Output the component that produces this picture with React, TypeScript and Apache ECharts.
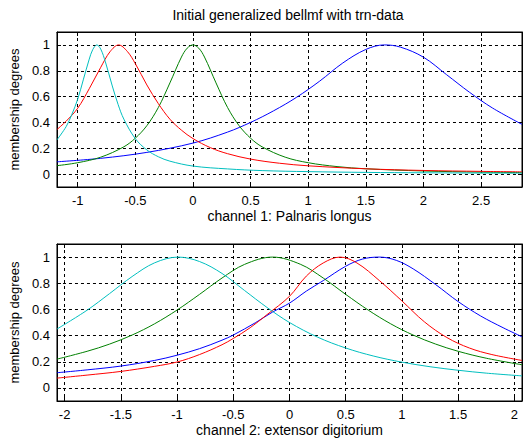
import React, { useEffect, useRef } from "react";
import * as echarts from "echarts";

// ---------- channel 1 (top) ----------
const topBlueX = [-1.18, -0.8, -0.4, 0, 0.3, 0.5, 0.7, 0.9, 1.1, 1.3, 1.5, 1.66, 1.8, 2.0, 2.2, 2.4, 2.6, 2.855];
const topBlueY = [0.095, 0.122, 0.168, 0.24, 0.325, 0.4, 0.49, 0.595, 0.72, 0.86, 0.965, 1.0, 0.983, 0.905, 0.77, 0.633, 0.511, 0.385];

const topGreenX = [-1.18, -1.0, -0.8, -0.6, -0.5, -0.4, -0.3, -0.2, -0.1, -0.05, 0, 0.05, 0.1, 0.2, 0.3, 0.4, 0.5, 0.6, 0.8, 1.0, 1.25, 1.5, 2.0, 2.5, 2.855];
const topGreenY = [0.065, 0.088, 0.131, 0.211, 0.278, 0.375, 0.516, 0.706, 0.906, 0.975, 1.0, 0.975, 0.906, 0.706, 0.516, 0.375, 0.278, 0.211, 0.131, 0.088, 0.058, 0.041, 0.024, 0.015, 0.012];

const topRedX = [-1.18, -1.1, -1.0, -0.9, -0.8, -0.72, -0.645, -0.57, -0.5, -0.4, -0.3, -0.2, -0.1, 0, 0.15, 0.3, 0.5, 0.75, 1.0, 1.5, 2.0, 2.5, 2.855];
const topRedY = [0.345, 0.41, 0.51, 0.661, 0.827, 0.947, 1.0, 0.95, 0.855, 0.69, 0.545, 0.425, 0.34, 0.275, 0.205, 0.158, 0.116, 0.084, 0.064, 0.041, 0.028, 0.021, 0.017];

const topCyanX = [-1.18, -1.1, -1.05, -1.0, -0.95, -0.9, -0.87, -0.834, -0.8, -0.76, -0.7, -0.65, -0.6, -0.5, -0.4, -0.3, -0.2, 0, 0.3, 0.6, 1.0, 1.5, 2.0, 2.5, 2.855];
const topCyanY = [0.265, 0.368, 0.464, 0.58, 0.735, 0.89, 0.963, 1.0, 0.967, 0.869, 0.682, 0.54, 0.426, 0.274, 0.187, 0.134, 0.1, 0.062, 0.04, 0.027, 0.019, 0.013, 0.01, 0.008, 0.007];

// ---------- channel 2 (bottom) ----------
const botBlueX = [-2.068, -1.8, -1.5, -1.2, -1.0, -0.8, -0.6, -0.5, -0.3, -0.15, 0, 0.15, 0.3, 0.5, 0.65, 0.8, 0.95, 1.1, 1.3, 1.5, 1.7, 1.9, 2.068];
const botBlueY = [0.116, 0.138, 0.167, 0.21, 0.25, 0.3, 0.365, 0.404, 0.5, 0.58, 0.648, 0.74, 0.82, 0.93, 0.985, 1.0, 0.975, 0.91, 0.79, 0.66, 0.55, 0.46, 0.391];

const botGreenX = [-2.068, -1.8, -1.6, -1.4, -1.2, -1.0, -0.8, -0.6, -0.4, -0.15, 0.1, 0.3, 0.5, 0.7, 0.9, 1.1, 1.3, 1.5, 1.75, 2.068];
const botGreenY = [0.22, 0.28, 0.335, 0.404, 0.49, 0.595, 0.715, 0.84, 0.944, 1.0, 0.944, 0.84, 0.715, 0.595, 0.49, 0.404, 0.335, 0.28, 0.227, 0.177];

const botRedX = [-2.068, -1.8, -1.5, -1.2, -1.0, -0.8, -0.6, -0.5, -0.35, -0.2, 0, 0.15, 0.3, 0.45, 0.6, 0.8, 1.0, 1.2, 1.4, 1.6, 1.8, 2.068];
const botRedY = [0.075, 0.098, 0.126, 0.165, 0.198, 0.255, 0.33, 0.378, 0.46, 0.56, 0.7, 0.855, 0.955, 1.0, 0.955, 0.82, 0.665, 0.505, 0.385, 0.305, 0.255, 0.21];

const botCyanX = [-2.068, -1.8, -1.6, -1.4, -1.2, -0.99, -0.8, -0.6, -0.4, -0.2, 0, 0.25, 0.5, 0.75, 1.0, 1.25, 1.5, 1.75, 2.068];
const botCyanY = [0.45, 0.594, 0.721, 0.851, 0.956, 1.0, 0.966, 0.875, 0.745, 0.615, 0.5, 0.388, 0.305, 0.243, 0.197, 0.162, 0.135, 0.113, 0.092];

// ---------- texts & ranges ----------
const titleText = "Initial generalized bellmf with trn-data";
const yName = "membership degrees";
const xName1 = "channel 1: Palnaris longus";
const xName2 = "channel 2: extensor digitorium";
const xRange1 = [-1.18, 2.855];
const xRange2 = [-2.068, 2.068];
const yRange = [-0.1, 1.1];

const FONT = '"Liberation Sans", Arial, Helvetica, sans-serif';
const BLUE = "#0000ff";
const GREEN = "#008000";
const RED = "#ff0000";
const CYAN = "#00bfbf";

function pairs(xs: number[], ys: number[]) {
  return xs.map((x, i) => [x, ys[i]]);
}

const gridLine = { show: true, lineStyle: { color: "#000", width: 1, type: [3, 3] as any } };
const tickStyle = { show: true, inside: true, length: 4, lineStyle: { color: "#000", width: 1 } };

function xAxes(gridIndex: number, range: number[], name: string) {
  return [
    {
      type: "value",
      gridIndex,
      position: "bottom",
      min: range[0],
      max: range[1],
      splitNumber: 8,
      axisLine: { show: true, onZero: false, lineStyle: { color: "#000", width: 1 } },
      axisTick: tickStyle,
      axisLabel: { show: true, color: "#000", fontSize: 13, fontFamily: FONT, margin: 7, showMinLabel: false, showMaxLabel: false },
      splitLine: gridLine,
      name,
      nameLocation: "middle",
      nameGap: 22,
      nameTextStyle: { color: "#000", fontSize: 14, fontFamily: FONT },
    },
    {
      type: "value",
      gridIndex,
      position: "top",
      min: range[0],
      max: range[1],
      splitNumber: 8,
      axisLine: { show: true, onZero: false, lineStyle: { color: "#000", width: 1 } },
      axisTick: tickStyle,
      axisLabel: { show: false },
      splitLine: { show: false },
    },
  ];
}

function yAxes(gridIndex: number) {
  return [
    {
      type: "value",
      gridIndex,
      position: "left",
      min: yRange[0],
      max: yRange[1],
      splitNumber: 6,
      axisLine: { show: true, onZero: false, lineStyle: { color: "#000", width: 1 } },
      axisTick: tickStyle,
      axisLabel: { show: true, color: "#000", fontSize: 13, fontFamily: FONT, margin: 7, showMinLabel: false, showMaxLabel: false },
      splitLine: gridLine,
      name: yName,
      nameLocation: "middle",
      nameGap: 32,
      nameTextStyle: { color: "#000", fontSize: 13, fontFamily: FONT },
    },
    {
      type: "value",
      gridIndex,
      position: "right",
      min: yRange[0],
      max: yRange[1],
      splitNumber: 6,
      axisLine: { show: true, onZero: false, lineStyle: { color: "#000", width: 1 } },
      axisTick: tickStyle,
      axisLabel: { show: false },
      splitLine: { show: false },
    },
  ];
}

function line(xIdx: number, yIdx: number, xs: number[], ys: number[], color: string) {
  return {
    type: "line",
    xAxisIndex: xIdx,
    yAxisIndex: yIdx,
    data: pairs(xs, ys),
    symbol: "none",
    showSymbol: false,
    smooth: 0.35,
    clip: true,
    lineStyle: { color, width: 1 },
    itemStyle: { color },
    silent: true,
  };
}

export default function App() {
  const ref = useRef<HTMLDivElement>(null);
  useEffect(() => {
    const chart = echarts.init(ref.current!, null, { renderer: "svg" });
    const option: any = {
      animation: false,
      backgroundColor: "#fff",
      textStyle: { fontFamily: FONT },
      grid: [
        { left: 54, top: 32, width: 468, height: 155, show: true, borderColor: "#000", borderWidth: 1, backgroundColor: "#fff" },
        { left: 54, top: 244, width: 468, height: 157, show: true, borderColor: "#000", borderWidth: 1, backgroundColor: "#fff" },
      ],
      xAxis: [...xAxes(0, xRange1, xName1), ...xAxes(1, xRange2, xName2)],
      yAxis: [...yAxes(0), ...yAxes(1)],
      graphic: [
        {
          type: "text",
          x: 288,
          y: 15,
          style: {
            text: titleText,
            font: `14px ${FONT}`,
            fill: "#000",
            textAlign: "center",
            textVerticalAlign: "middle",
            align: "center",
            verticalAlign: "middle",
          },
        },
      ],
      series: [
        line(0, 0, topBlueX, topBlueY, BLUE),
        line(0, 0, topGreenX, topGreenY, GREEN),
        line(0, 0, topRedX, topRedY, RED),
        line(0, 0, topCyanX, topCyanY, CYAN),
        line(2, 2, botBlueX, botBlueY, BLUE),
        line(2, 2, botGreenX, botGreenY, GREEN),
        line(2, 2, botRedX, botRedY, RED),
        line(2, 2, botCyanX, botCyanY, CYAN),
      ],
    };
    chart.setOption(option);
    return () => chart.dispose();
  }, []);
  return (
    <div
      ref={ref}
      style={{ position: "fixed", left: 0, top: 0, width: 523, height: 443, background: "#fff" }}
    />
  );
}
